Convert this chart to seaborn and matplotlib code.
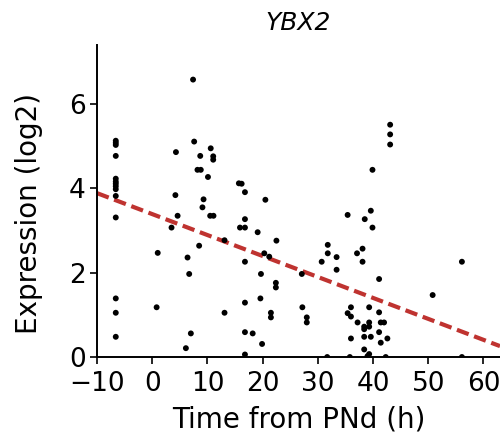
import numpy as np
import pandas as pd
import matplotlib
matplotlib.use('Agg')
import matplotlib.pyplot as plt
import seaborn as sns

# time from PNd (h) and log2 expression
hours = [
    -6.6, -6.6, -6.6, -6.6, -6.6, -6.6, -6.6, -6.6, -6.6, -6.6, -6.6, -6.6, -6.6, -6.6,
    1.0, 0.8, 3.5, 4.3, 4.2, 4.6,
    6.4, 6.7, 6.1, 7.0, 7.4, 7.6, 8.7, 8.2, 8.8, 8.5, 9.3, 9.1,
    10.6, 11.05, 11.05, 10.1, 10.5, 11.1, 13.1, 13.1,
    15.7, 16.2, 16.8, 16.8, 15.9, 16.8, 16.8, 16.8, 16.8, 18.2, 16.8,
    19.1, 20.5, 20.3, 21.2, 19.7, 19.6, 19.9,
    22.5, 22.4, 22.4, 21.5, 21.5,
    27.1, 27.2, 28.0, 28.0,
    30.7, 31.8, 31.8, 33.4, 33.4, 31.7,
    35.4, 39.6, 38.5, 39.9, 39.9, 43.1, 43.1, 43.1,
    37.1, 38.1, 38.1, 41.1, 50.8, 56.1,
    36.0, 35.4, 36.0, 37.2, 39.3, 41.1, 38.4, 38.4, 39.3, 39.3, 41.4, 42.0,
    41.1, 38.4, 39.6, 36.0, 41.4, 42.6, 38.4, 39.3, 39.0, 35.8, 42.3, 56.1,
]
expr = [
    5.13, 5.08, 5.03, 4.77, 4.23, 4.16, 4.11, 4.05, 3.98, 3.82, 3.31, 1.39, 1.05, 0.48,
    2.47, 1.18, 3.07, 4.86, 3.84, 3.35,
    2.36, 1.97, 0.21, 0.56, 6.58, 5.11, 4.77, 4.44, 4.44, 2.64, 3.74, 3.55,
    4.95, 4.76, 4.68, 4.27, 3.35, 3.35, 2.77, 1.05,
    4.12, 4.11, 3.91, 3.27, 3.07, 3.07, 2.26, 1.29, 0.59, 0.56, 0.06,
    2.96, 3.73, 2.46, 2.38, 1.97, 1.39, 0.31,
    2.76, 1.76, 1.65, 1.05, 0.94,
    1.97, 1.18, 0.94, 0.82,
    2.26, 2.66, 2.46, 2.37, 2.07, 0.0,
    3.37, 3.47, 3.27, 3.07, 4.44, 5.51, 5.28, 5.04,
    2.46, 2.57, 2.26, 1.85, 1.47, 2.26,
    1.18, 1.04, 0.96, 0.82, 1.18, 1.06, 0.72, 0.66, 0.82, 0.72, 0.82, 0.82,
    0.59, 0.48, 0.48, 0.44, 0.34, 0.44, 0.18, 0.07, 0.02, 0.0, 0.0, 0.0,
]

# linear trend as drawn in the reference
fit_intercept = 3.39
fit_slope = -0.0497

gene = 'YBX2'
x_ticks = [-10, 0, 10, 20, 30, 40, 50, 60]
y_ticks = [0, 2, 4, 6]
x_range = [-10, 63]

df = pd.DataFrame({'hours': hours, 'expr': expr})
trend = pd.DataFrame({'hours': x_range})
trend['expr'] = fit_intercept + fit_slope * trend['hours']

sns.set_theme(style='ticks')
plt.rcParams['font.family'] = ['DejaVu Sans']
plt.rcParams['text.color'] = 'black'
plt.rcParams['axes.labelcolor'] = 'black'
plt.rcParams['xtick.color'] = 'black'
plt.rcParams['ytick.color'] = 'black'
plt.rcParams['axes.edgecolor'] = 'black'

fig = plt.figure(figsize=(5, 4.37), dpi=100)
ax = fig.add_axes([0.194, 0.183, 0.806, 0.714])

sns.scatterplot(data=df, x='hours', y='expr', ax=ax, color='black', s=18,
                edgecolor='none', zorder=3)
sns.lineplot(data=trend, x='hours', y='expr', ax=ax, color='#bf3330',
             linewidth=3, linestyle=(0, (3, 1.4)), zorder=2)

ax.set_xlim(*x_range)
ax.set_ylim(0, 7.4)
ax.set_xticks(x_ticks)
ax.set_xticklabels(['\u221210' if t == -10 else str(t) for t in x_ticks])
ax.set_yticks(y_ticks)
ax.tick_params(labelsize=19, length=5, width=1.2)
ax.tick_params(axis='x', pad=5)
ax.tick_params(axis='y', pad=3)
for side in ['top', 'right']:
    ax.spines[side].set_visible(False)
for side in ['left', 'bottom']:
    ax.spines[side].set_linewidth(1.4)

ax.set_xlabel('Time from PNd (h)', fontsize=20, labelpad=6)
ax.set_ylabel('Expression (log2)', fontsize=20)
ax.yaxis.set_label_coords(-0.135, 0.46)
ax.set_title(gene, fontsize=18, style='italic', pad=11)

fig.savefig('out.png', dpi=100)
